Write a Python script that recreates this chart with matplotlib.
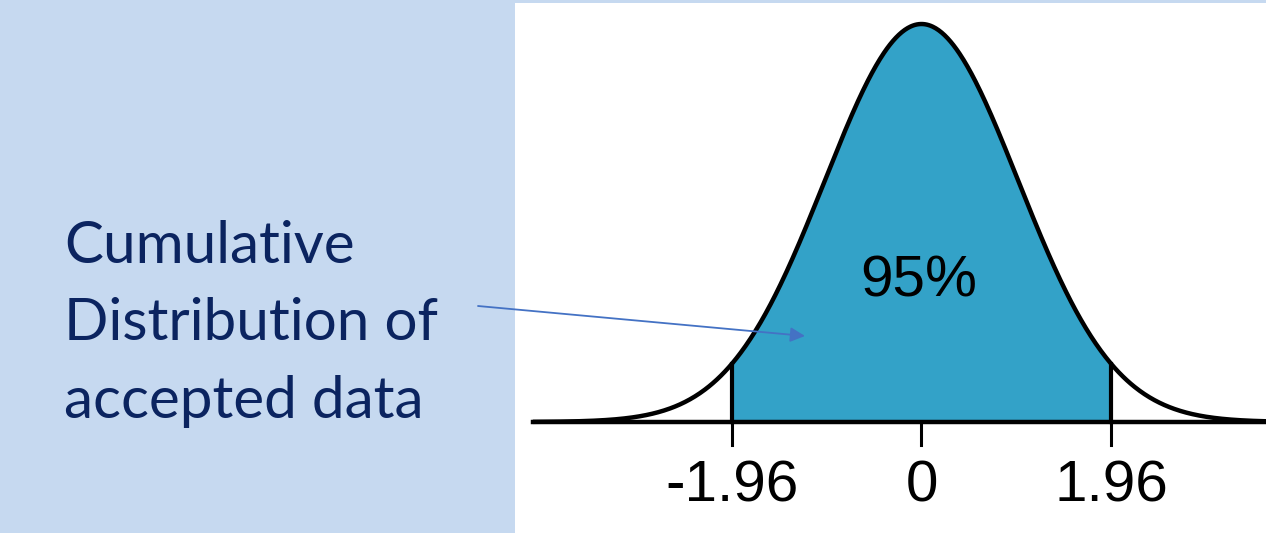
import numpy as np
import matplotlib.pyplot as plt

# values
tick_values = [-1.96, 0, 1.96]
tick_labels = ['-1.96', '0', '1.96']
lower, upper = -1.96, 1.96
area_label = '95%'
side_lines = ['Cumulative', 'Distribution of', 'accepted data']

x = np.linspace(-4.02, 4.2, 800)
pdf = np.exp(-x ** 2 / 2) / np.sqrt(2 * np.pi)

fig = plt.figure(figsize=(12.66, 5.33), dpi=100)
fig.patch.set_facecolor('#C6D9F0')

# white panel holding the normal curve
ax = fig.add_axes([515 / 1266, 0, 1 - 515 / 1266, 530 / 533])
ax.set_facecolor('white')
ax.set_xlim(-4.204, 3.563)
ax.set_ylim(-0.1113, 0.42)
for s in ax.spines.values():
    s.set_visible(False)
ax.set_xticks([])
ax.set_yticks([])

inside = (x >= lower) & (x <= upper)
ax.fill_between(x[inside], 0, pdf[inside], color='#33A2C8', lw=0)
ax.plot(x, pdf, color='black', lw=3.2, solid_capstyle='butt')
ax.plot([x[0], x[-1]], [0, 0], color='black', lw=3.2)
for v in (lower, upper):
    ax.plot([v, v], [0, np.exp(-v ** 2 / 2) / np.sqrt(2 * np.pi)], color='black', lw=3)

for v, lab in zip(tick_values, tick_labels):
    ax.plot([v, v], [0, -0.0235], color='black', lw=2.2)
    ax.text(v, -0.0644, lab, ha='center', va='center',
            family='Liberation Sans', fontsize=42)

ax.text(-0.03, 0.1405, area_label, ha='center', va='center',
        family='Liberation Sans', fontsize=42)

# text on the blue side
baselines = [270, 193, 115]
for line, yb in zip(side_lines, baselines):
    fig.text(64 / 1266, yb / 533, line, ha='left', va='baseline',
             family='Lato', fontsize=42, color='#0B2460')

ax.annotate('', xy=(-1.205, 0.0862), xycoords='data',
            xytext=(478, 227), textcoords='figure pixels',
            arrowprops=dict(arrowstyle='-|>', color='#4472C4', lw=1.3,
                            mutation_scale=22, shrinkA=0, shrinkB=0),
            annotation_clip=False)

fig.savefig('out.png', dpi=100, facecolor=fig.get_facecolor())
